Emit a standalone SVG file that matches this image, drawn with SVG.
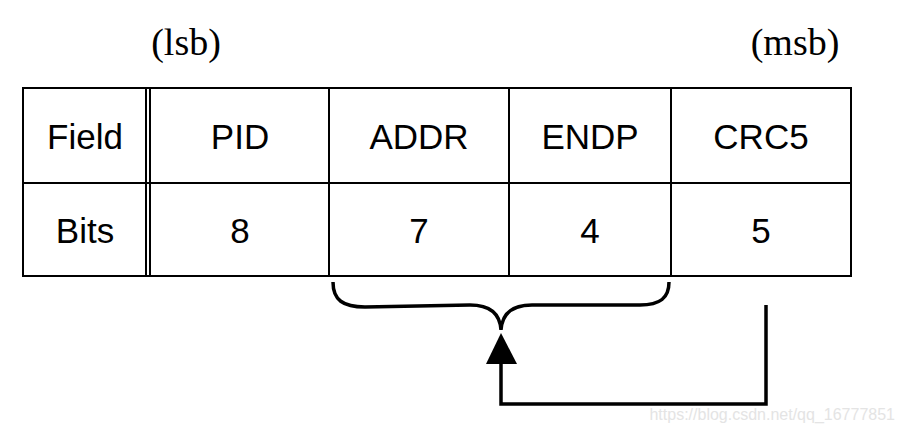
<svg xmlns="http://www.w3.org/2000/svg" width="904" height="433" viewBox="0 0 904 433">
<style>
.t{font-family:"Liberation Sans",Arial,sans-serif;font-size:35px;fill:#000;text-anchor:middle}
.s{font-family:"Liberation Serif","Times New Roman",serif;font-size:38px;fill:#000;text-anchor:middle}
.g{fill:none;stroke:#000;stroke-width:2}
.c{fill:none;stroke:#000;stroke-width:3.5}
</style>
<rect width="904" height="433" fill="#fff"/>
<g id="labels">
<text class="s" x="186" y="55">(lsb)</text>
<text class="s" x="795" y="55">(msb)</text>
</g>
<g id="table">
<rect class="g" x="23" y="88" width="828" height="188"/>
<line class="g" x1="23" y1="183" x2="851" y2="183"/>
<line class="g" x1="146" y1="88" x2="146" y2="276"/>
<line class="g" x1="150" y1="88" x2="150" y2="276"/>
<line class="g" x1="329" y1="88" x2="329" y2="276"/>
<line class="g" x1="509" y1="88" x2="509" y2="276"/>
<line class="g" x1="671" y1="88" x2="671" y2="276"/>
</g>
<g id="cells">
<text class="t" x="85" y="149">Field</text>
<text class="t" x="240" y="149">PID</text>
<text class="t" x="419" y="149">ADDR</text>
<text class="t" x="590" y="149">ENDP</text>
<text class="t" x="761" y="149">CRC5</text>
<text class="t" x="85" y="243">Bits</text>
<text class="t" x="240" y="243">8</text>
<text class="t" x="419" y="243">7</text>
<text class="t" x="590" y="243">4</text>
<text class="t" x="761" y="243">5</text>
</g>
<g id="connectors">
<path class="c" d="M333,282 C333,300 343,307 365,307 L470,305 C490,305 500,314 501,330 C502,314 512,305 532,305 L640,305 C660,305 669,298 669,282"/>
<path class="c" d="M766,305 L766,404 L501,404 L501,362"/>
<polygon points="501,333 486,364 517,364" fill="#000"/>
</g>
<text x="895" y="420" font-family="'Liberation Sans',Arial,sans-serif" font-size="16" fill="#e4e4e4" text-anchor="end">https://blog.csdn.net/qq_16777851</text>
</svg>
